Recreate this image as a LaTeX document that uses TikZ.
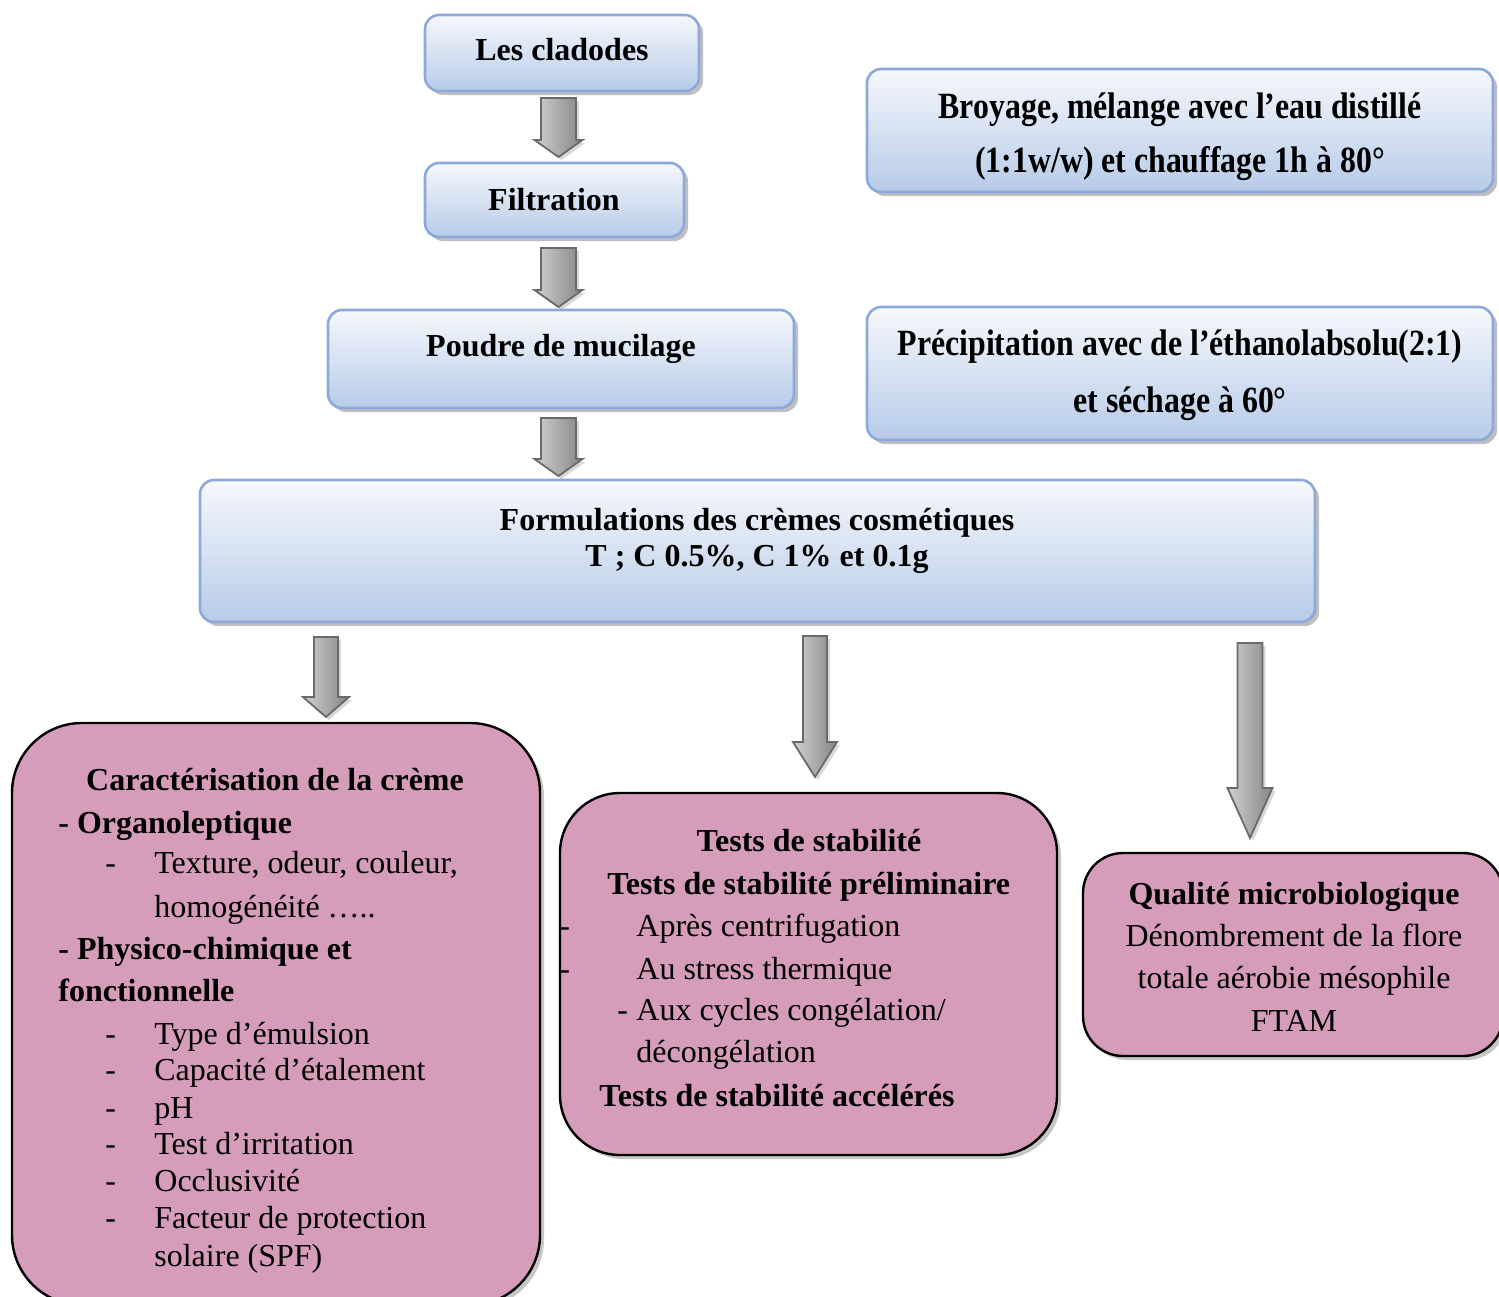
\documentclass[tikz,border=0pt]{standalone}
\usepackage{fontspec}
\setmainfont{Liberation Serif}
\newfontfamily\condfont{Liberation Serif}[FakeStretch=0.86]
\usetikzlibrary{calc,shadows}

\definecolor{bluetop}{HTML}{F6F8FC}
\definecolor{bluebot}{HTML}{B7CBE8}
\definecolor{blueline}{HTML}{8DA9DB}
\definecolor{pinkfill}{HTML}{D59DBA}
\definecolor{arrline}{HTML}{6A6A6A}

\tikzset{
  bluebox/.style={draw=blueline, line width=1.3pt, rounded corners=7pt,
    top color=bluetop, bottom color=bluebot, inner sep=0pt,
    drop shadow={shadow xshift=2pt, shadow yshift=-2pt, opacity=0.45, fill=black!55}},
  pinkbox/.style={draw=black, line width=1.2pt, fill=pinkfill, inner sep=0pt,
    drop shadow={shadow xshift=2pt, shadow yshift=-2pt, opacity=0.4, fill=black!55}},
  txt/.style={anchor=base, inner sep=0pt, font=\fontsize{16}{19}\selectfont},
  txtl/.style={anchor=base west, inner sep=0pt, font=\fontsize{16}{19}\selectfont},
  btxt/.style={anchor=base, inner sep=0pt, font=\fontsize{16}{19}\selectfont\bfseries},
  btxtl/.style={anchor=base west, inner sep=0pt, font=\fontsize{16}{19}\selectfont\bfseries},
  ctxt/.style={anchor=base, inner sep=0pt, font=\fontsize{18.5}{22}\selectfont\condfont\bfseries},
  arrowshade/.style={draw=arrline, line width=0.9pt, left color=black!18, right color=black!48,
    drop shadow={shadow xshift=1.5pt, shadow yshift=-1.5pt, opacity=0.3, fill=black!50}}
}

% #1 top coordinate, #2 tip coordinate, #3 shaft half width, #4 head half width, #5 head length (px)
\newcommand\blockarrow[5]{%
  \path[arrowshade] let \p1=(#1), \p2=(#2) in
    (\x1-#3*0.5pt,\y1) -- (\x1+#3*0.5pt,\y1) -- (\x1+#3*0.5pt,\y2+#5*0.5pt)
    -- (\x1+#4*0.5pt,\y2+#5*0.5pt) -- (\x2,\y2) -- (\x1-#4*0.5pt,\y2+#5*0.5pt)
    -- (\x1-#3*0.5pt,\y2+#5*0.5pt) -- cycle;}

\begin{document}
\begin{tikzpicture}[x=0.5pt,y=-0.5pt]
\useasboundingbox (0,0) rectangle (1499,1296);
\fill[white] (0,0) rectangle (1499,1296);

% ---- blue boxes
\node[bluebox, minimum width=137pt, minimum height=38pt] (clad) at (562,53) {};
\node[bluebox, minimum width=129.5pt, minimum height=37pt] (filt) at (554.5,200) {};
\node[bluebox, minimum width=233pt, minimum height=49pt] (poudre) at (561,359) {};
\node[bluebox, minimum width=557.5pt, minimum height=71pt] (form) at (757.5,551) {};
\node[bluebox, minimum width=313pt, minimum height=61.5pt] (broy) at (1180,130.5) {};
\node[bluebox, minimum width=313pt, minimum height=66.5pt] (prec) at (1180,373.5) {};

% ---- pink boxes
\node[pinkbox, rounded corners=35pt, minimum width=264pt, minimum height=291pt] (carac) at (276,1014) {};
\node[pinkbox, rounded corners=30pt, minimum width=248.5pt, minimum height=181pt] (stab) at (808.5,974) {};
\node[pinkbox, rounded corners=20pt, minimum width=210pt, minimum height=101.5pt] (micro) at (1293,954.5) {};

% ---- arrows
\coordinate (a1s) at (558.5,98);  \coordinate (a1e) at (558.5,157);
\coordinate (a2s) at (558.5,248); \coordinate (a2e) at (558.5,307);
\coordinate (a3s) at (558.5,418); \coordinate (a3e) at (558.5,476);
\coordinate (a4s) at (326,637);   \coordinate (a4e) at (326,717);
\coordinate (a5s) at (815,636);   \coordinate (a5e) at (815,777);
\coordinate (a6s) at (1250,643);  \coordinate (a6e) at (1250,838);
\blockarrow{a1s}{a1e}{17.5}{24}{17}
\blockarrow{a2s}{a2e}{17.5}{24}{17}
\blockarrow{a3s}{a3e}{17.5}{24}{17}
\blockarrow{a4s}{a4e}{12}{23}{20}
\blockarrow{a5s}{a5e}{12}{22}{35}
\blockarrow{a6s}{a6e}{12.5}{22.5}{50}

\begin{scope}[yshift=-1pt]
% ---- blue box text
\node[btxt] (tclad) at (562,58) {Les cladodes};
\node[btxt] (tfilt) at (554,208) {Filtration};
\node[btxt] (tpoudre) at (561,354) {Poudre de mucilage};
\node[btxt] (tform1) at (757,528) {Formulations des crèmes cosmétiques};
\node[btxt] (tform2) at (757,564) {T ; C 0.5\%, C 1\% et 0.1g};
\node[ctxt] (tbroy1) at (1180,116) {Broyage, mélange avec l’eau distillé};
\node[ctxt] (tbroy2) at (1180,170) {(1:1w/w) et chauffage 1h à 80°};
\node[ctxt] (tprec1) at (1180,353) {Précipitation avec de l’éthanolabsolu(2:1)};
\node[ctxt] (tprec2) at (1180,410) {et séchage à 60°};

% ---- left box text
\node[btxt] (c1) at (275,788) {Caractérisation de la crème};
\node[btxtl] (c2) at (58,831) {- Organoleptique};
\node[txtl] (c3d) at (105,871) {-};
\node[txtl] (c3) at (154,871) {Texture, odeur, couleur,};
\node[txtl] (c4) at (154,915) {homogénéité …..};
\node[btxtl] (c5) at (58,957) {- Physico-chimique et};
\node[btxtl] (c6) at (58,999) {fonctionnelle};
\node[txtl] (c7d) at (105,1042) {-};
\node[txtl] (c7) at (154,1042) {Type d’émulsion};
\node[txtl] (c8d) at (105,1078) {-};
\node[txtl] (c8) at (154,1078) {Capacité d’étalement};
\node[txtl] (c9d) at (105,1116) {-};
\node[txtl] (c9) at (154,1116) {pH};
\node[txtl] (c10d) at (105,1152) {-};
\node[txtl] (c10) at (154,1152) {Test d’irritation};
\node[txtl] (c11d) at (105,1189) {-};
\node[txtl] (c11) at (154,1189) {Occlusivité};
\node[txtl] (c12d) at (105,1226) {-};
\node[txtl] (c12) at (154,1226) {Facteur de protection};
\node[txtl] (c13) at (154,1264) {solaire (SPF)};

% ---- middle box text
\node[btxt] (s1) at (809,849) {Tests de stabilité};
\node[btxtl] (s2) at (607,892) {Tests de stabilité préliminaire};
\node[txtl] (s3d) at (559,934) {-};
\node[txtl] (s3) at (636,934) {Après centrifugation};
\node[txtl] (s4d) at (559,977) {-};
\node[txtl] (s4) at (636,977) {Au stress thermique};
\node[txtl] (s5d) at (617,1018) {-};
\node[txtl] (s5) at (636,1018) {Aux cycles congélation/};
\node[txtl] (s6) at (636,1060) {décongélation};
\node[btxtl] (s7) at (599,1104) {Tests de stabilité accélérés};

% ---- right box text
\node[btxt] (m1) at (1294,902) {Qualité microbiologique};
\node[txt] (m2) at (1294,944) {Dénombrement de la flore};
\node[txt] (m3) at (1294,986) {totale aérobie mésophile};
\node[txt] (m4) at (1294,1029) {FTAM};
\end{scope}
\end{tikzpicture}
\end{document}
